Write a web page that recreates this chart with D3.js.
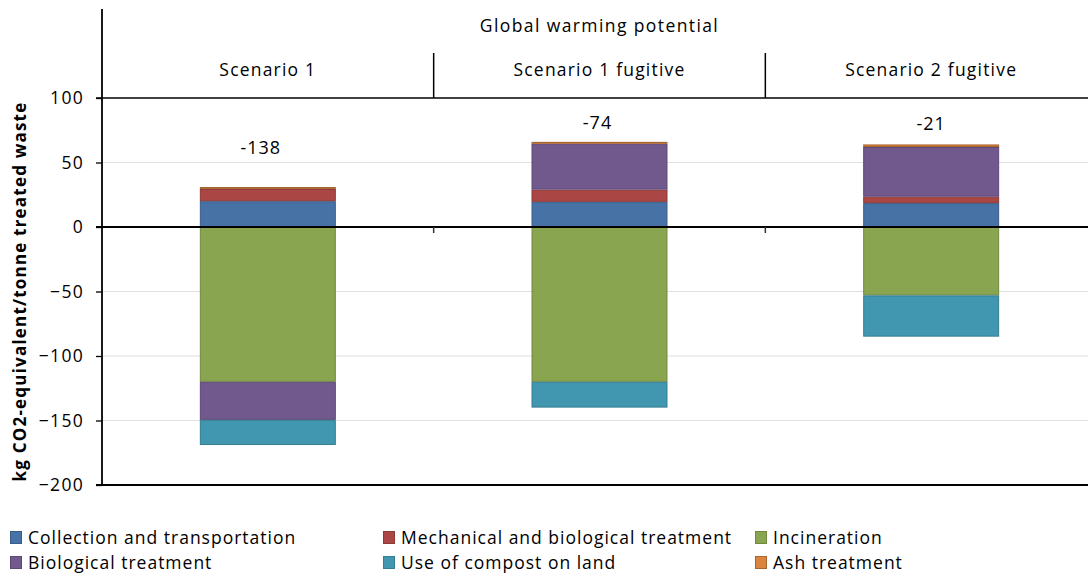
<!DOCTYPE html>
<html>
<head>
<meta charset="utf-8">
<script src="https://cdn.jsdelivr.net/npm/d3@7"></script>
<style>
  body { margin: 0; background: #fff; }
  svg { display: block; }
  text { font-family: "Open Sans", "DejaVu Sans", sans-serif; fill: #000; }
</style>
</head>
<body>
<svg id="chart" width="1088" height="576"></svg>
<script>
// Global warming potential per scenario, kg CO2-eq per tonne of treated waste
const scenarios = ["Scenario 1", "Scenario 1 fugitive", "Scenario 2 fugitive"];
const netTotals = [-138, -74, -21];

const seriesNames = [
  "Collection and transportation",
  "Mechanical and biological treatment",
  "Incineration",
  "Biological treatment",
  "Use of compost on land",
  "Ash treatment"
];
const collection = [20, 19.5, 18.5];
const mechanicalBiological = [9.5, 9.5, 5];
const incineration = [-120, -120, -53];
const biological = [-29.5, 35.5, 38.5];
const compostOnLand = [-19.5, -20, -32];
const ashTreatment = [1.5, 1.5, 2];

const yTicks = [100, 50, 0, -50, -100, -150, -200];
const headerTitle = "Global warming potential";
const yTitle = "kg CO2-equivalent/tonne treated waste";

// Series styling
const fills = ["#4672a6", "#aa4744", "#8aa54f", "#71598e", "#4297b0", "#db843d"];
const strokes = ["#385d8a", "#8c3836", "#71893f", "#5c4776", "#357d91", "#a8652d"];

// Placement of the net-total labels: lift above the bar top and sideways nudge, px
const labelLift = [39, 19, 20];
const labelNudge = [-7, -2, 0];

const seriesValues = [collection, mechanicalBiological, incineration, biological, compostOnLand, ashTreatment];
const rows = scenarios.map((s, i) => {
  const r = { scenario: s };
  seriesNames.forEach((n, k) => { r[n] = seriesValues[k][i]; });
  return r;
});

const svg = d3.select("#chart");
const plotLeft = 102, plotRight = 1097, plotTop = 98, plotBottom = 485;
const fontSize = "17.5px", spacing = "1px";

const y = d3.scaleLinear().domain([-200, 100]).range([plotBottom, plotTop]);
const xCat = d3.scaleBand().domain(scenarios).range([plotLeft, plotRight]).padding(0);
const xBar = d3.scaleBand().domain(scenarios).range([plotLeft, plotRight])
  .paddingInner(0.59).paddingOuter(0.295);

// Gridlines
svg.append("g").selectAll("line")
  .data(yTicks.filter(t => t !== 0 && t !== 100 && t !== -200))
  .join("line")
  .attr("x1", plotLeft).attr("x2", 1088)
  .attr("y1", d => y(d)).attr("y2", d => y(d))
  .attr("stroke", "#e0e0e0").attr("stroke-width", 1.2);

// Stacked bars
const stack = d3.stack().keys(seriesNames).offset(d3.stackOffsetDiverging);
const stacked = stack(rows);

svg.append("g").selectAll("g")
  .data(stacked)
  .join("g")
  .attr("fill", (d, i) => fills[i])
  .attr("stroke", (d, i) => strokes[i])
  .attr("stroke-width", 1)
  .selectAll("rect")
  .data(d => d)
  .join("rect")
  .attr("x", d => xBar(d.data.scenario) + 0.5)
  .attr("width", xBar.bandwidth() - 1)
  .attr("y", d => y(Math.max(d[0], d[1])) + 0.5)
  .attr("height", d => Math.max(0, Math.abs(y(d[0]) - y(d[1])) - 1));

// Frame lines: top (100), zero line and bottom (-200)
svg.append("line")
  .attr("x1", plotLeft - 6).attr("x2", 1088)
  .attr("y1", y(100)).attr("y2", y(100))
  .attr("stroke", "#000").attr("stroke-width", 1.3);
svg.append("line")
  .attr("x1", plotLeft - 6).attr("x2", 1088)
  .attr("y1", y(0)).attr("y2", y(0))
  .attr("stroke", "#000").attr("stroke-width", 2.2);
svg.append("line")
  .attr("x1", plotLeft - 6).attr("x2", 1088)
  .attr("y1", y(-200)).attr("y2", y(-200))
  .attr("stroke", "#000").attr("stroke-width", 1.8);

// Category ticks under the zero line
svg.append("g").selectAll("line")
  .data(scenarios.slice(1))
  .join("line")
  .attr("x1", d => xCat(d)).attr("x2", d => xCat(d))
  .attr("y1", y(0)).attr("y2", y(0) + 6)
  .attr("stroke", "#333").attr("stroke-width", 1.5);

// Header separators
svg.append("g").selectAll("line")
  .data(scenarios.slice(1))
  .join("line")
  .attr("x1", d => xCat(d)).attr("x2", d => xCat(d))
  .attr("y1", 53).attr("y2", y(100))
  .attr("stroke", "#000").attr("stroke-width", 1.5);

// Y axis
const yAxis = d3.axisLeft(y).tickValues(yTicks).tickSize(6).tickPadding(12)
  .tickFormat(d3.format("d"));
const ya = svg.append("g").attr("transform", `translate(${plotLeft},0)`).call(yAxis);
ya.select(".domain").remove();
ya.selectAll(".tick line").attr("stroke", "#000").attr("stroke-width", 1.3);
ya.selectAll(".tick text")
  .style("font-family", '"Open Sans", sans-serif')
  .style("font-size", "17.5px").style("letter-spacing", "1.3px").attr("fill", "#000");
svg.append("line")
  .attr("x1", plotLeft).attr("x2", plotLeft)
  .attr("y1", 9).attr("y2", y(-200) + 1)
  .attr("stroke", "#000").attr("stroke-width", 1.8);

// Header texts
svg.append("text")
  .attr("x", (plotLeft + plotRight) / 2).attr("y", 32)
  .attr("text-anchor", "middle")
  .style("font-size", fontSize).style("letter-spacing", "1.4px")
  .text(headerTitle);
svg.append("g").selectAll("text")
  .data(scenarios)
  .join("text")
  .attr("x", d => xCat(d) + xCat.bandwidth() / 2).attr("y", 76)
  .attr("text-anchor", "middle")
  .style("font-size", fontSize).style("letter-spacing", "1.2px")
  .text(d => d);

// Net total labels above each bar
const posTop = rows.map(r => d3.sum(seriesNames, n => Math.max(0, r[n])));
svg.append("g").selectAll("text")
  .data(scenarios)
  .join("text")
  .attr("x", (d, i) => xBar(d) + xBar.bandwidth() / 2 + labelNudge[i])
  .attr("y", (d, i) => y(posTop[i]) - labelLift[i] + 6)
  .attr("text-anchor", "middle")
  .style("font-size", "18px").style("letter-spacing", "1px")
  .text((d, i) => netTotals[i]);

// Y axis title
svg.append("text")
  .attr("transform", `translate(26,${(y(100) + y(-200)) / 2}) rotate(-90)`)
  .attr("text-anchor", "middle")
  .style("font-size", "17px").style("font-weight", "bold").style("letter-spacing", "1.2px")
  .text(yTitle);

// Legend
const legendCols = [10, 383, 755];
const legendRows = [538, 563];
const legend = svg.append("g").selectAll("g")
  .data(seriesNames)
  .join("g")
  .attr("transform", (d, i) => `translate(${legendCols[i % 3]},${legendRows[Math.floor(i / 3)]})`);
legend.append("rect")
  .attr("x", 0.5).attr("y", -6.5).attr("width", 11).attr("height", 12)
  .attr("fill", (d, i) => fills[i]).attr("stroke", (d, i) => strokes[i]);
legend.append("text")
  .attr("x", 18).attr("y", 6)
  .style("font-size", fontSize).style("letter-spacing", spacing)
  .text(d => d);
</script>
</body>
</html>
